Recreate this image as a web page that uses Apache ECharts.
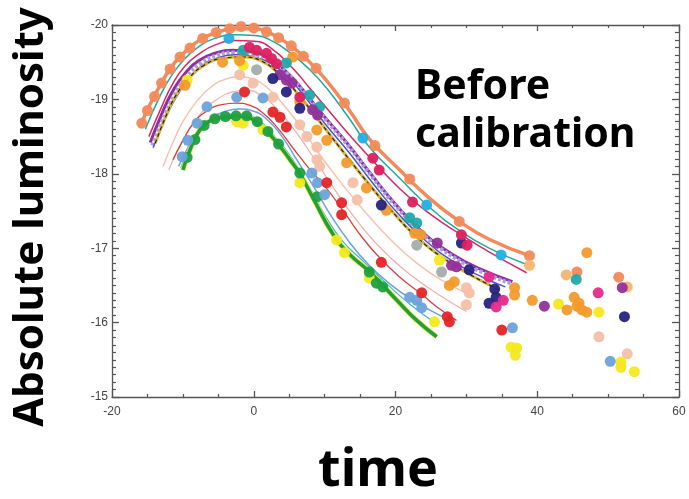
<!DOCTYPE html>
<html>
<head>
<meta charset="utf-8">
<script src="https://cdn.jsdelivr.net/npm/echarts@6/dist/echarts.min.js"></script>
<style>
html,body{margin:0;padding:0;background:#fff;}
#chart{width:689px;height:499px;}
</style>
</head>
<body>
<div id="chart"></div>
<script>
// ---- axis ticks ----
const xTicks = [-20, 0, 20, 40, 60];
const yTicks = [-20, -19, -18, -17, -16, -15];

// ---- fitted light curves [time, absolute magnitude] ----
const curveSalmon = [[-16.1,-18.62],[-14.7,-18.92],[-13.2,-19.19],[-11.6,-19.44],[-9.7,-19.64],[-7.6,-19.80],[-5.5,-19.89],[-2.7,-19.95],[0.1,-19.95],[2.3,-19.89],[5.1,-19.73],[7.9,-19.50],[10.3,-19.25],[13.5,-18.85],[16.3,-18.47],[20.6,-18.05],[24.8,-17.67],[29.0,-17.36],[33.2,-17.12],[38.9,-16.90]];
const curveTeal = [[-15.3,-18.6],[-13.2,-19.05],[-11.6,-19.32],[-9.7,-19.55],[-7.6,-19.72],[-5.5,-19.82],[-2.7,-19.87],[0.1,-19.86],[2.3,-19.8],[5.1,-19.63],[7.9,-19.4],[10.3,-19.15],[13.5,-18.74],[16.3,-18.36],[20.6,-17.94],[24.8,-17.55],[29,-17.24],[33.2,-17.0],[38.5,-16.78]];
const curveCrimson = [[-14.8,-18.5],[-13,-18.9],[-11.5,-19.2],[-9.7,-19.45],[-7.6,-19.62],[-5.5,-19.73],[-2.7,-19.79],[0.1,-19.78],[2.3,-19.7],[5.5,-19.42],[7.9,-19.15],[10.3,-18.88],[13.5,-18.52],[15.4,-18.32],[20.6,-17.8],[25,-17.45],[29.3,-17.18],[33.2,-16.95],[38.5,-16.67]];
const curvePurple = [[-14.6,-18.42],[-13,-18.8],[-11.5,-19.1],[-9.7,-19.35],[-7.6,-19.53],[-5.5,-19.62],[-3,-19.66],[-0.5,-19.64],[2,-19.56],[4.5,-19.38],[7,-19.12],[9.5,-18.82],[13.1,-18.42],[16.5,-18.0],[20.1,-17.58],[24,-17.2],[28,-16.92],[32,-16.72],[36.5,-16.55]];
const curveLavender = [[-14.3,-18.38],[-12.8,-18.74],[-11.3,-19.04],[-9.5,-19.3],[-7.4,-19.49],[-5.3,-19.59],[-2.8,-19.63],[-0.3,-19.61],[2.2,-19.53],[4.7,-19.35],[7.2,-19.08],[9.7,-18.78],[13.3,-18.38],[16.7,-17.96],[20.3,-17.54],[24.2,-17.16],[28.2,-16.88],[32.2,-16.68],[36.5,-16.52]];
const curveIndigo = [[-14.2,-18.35],[-12.6,-18.72],[-11,-19.02],[-9.2,-19.27],[-7.2,-19.46],[-5,-19.56],[-2.5,-19.6],[0,-19.57],[2.5,-19.48],[5,-19.28],[7.5,-19.0],[10,-18.68],[13.5,-18.28],[17,-17.85],[20.5,-17.45],[24.5,-17.08],[28.5,-16.8],[32.5,-16.6],[35.5,-16.48]];
const curveGold = [[-13.9,-18.41],[-12.5,-18.75],[-11,-19.05],[-9,-19.3],[-7,-19.46],[-4.5,-19.55],[-1.5,-19.57],[1,-19.52],[3.5,-19.35],[6,-19.1],[8.5,-18.8],[12.1,-18.36],[15.5,-17.95],[19.2,-17.53],[23,-17.15],[27,-16.85],[31,-16.62],[34.6,-16.44]];
const curvePeach = [[-12.8,-18.1],[-11.5,-18.4],[-10,-18.7],[-8,-18.98],[-6,-19.17],[-4,-19.27],[-2,-19.3],[0,-19.27],[2,-19.15],[4,-18.95],[6.5,-18.65],[9,-18.3],[11.5,-17.98],[14,-17.68],[17,-17.35],[20,-17.05],[23,-16.8],[26.5,-16.57],[31,-16.35]];
const curvePink = [[-12,-18.05],[-10.8,-18.3],[-9.2,-18.58],[-7.3,-18.83],[-5.2,-19.0],[-3,-19.1],[-1,-19.12],[1,-19.06],[3,-18.9],[5.5,-18.62],[8,-18.28],[10.5,-17.92],[13,-17.57],[16,-17.2],[19,-16.9],[22,-16.65],[26,-16.38],[30,-16.15]];
const curveRed = [[-11.4,-18.19],[-10,-18.45],[-8.5,-18.68],[-6.5,-18.85],[-4.5,-18.93],[-2.5,-18.95],[-0.5,-18.92],[1.5,-18.8],[3.5,-18.6],[5.5,-18.35],[8,-18.05],[10.3,-17.8],[13,-17.45],[15.5,-17.12],[17.7,-16.88],[20.5,-16.62],[23.7,-16.38],[26,-16.2],[28.6,-16.03]];
const curveBlue = [[-10.6,-18.1],[-9.3,-18.35],[-7.8,-18.58],[-6,-18.75],[-4,-18.84],[-2,-18.87],[0,-18.84],[2,-18.72],[4,-18.5],[6,-18.2],[8.5,-17.82],[11,-17.42],[13.5,-17.08],[16,-16.8],[19.2,-16.52],[22.5,-16.3],[26.6,-16.08]];
const curveCyan = [[-10.3,-18.08],[-9.2,-18.33],[-7.7,-18.58],[-6,-18.73],[-3.6,-18.8],[-1.4,-18.8],[0.7,-18.72],[2.8,-18.52],[5,-18.26],[7.5,-17.88],[10,-17.45],[12.5,-17.1],[15.5,-16.82],[19,-16.5],[22,-16.25],[25.5,-16.0]];
const curveGreen = [[-10,-18.05],[-9,-18.32],[-7.6,-18.59],[-5.9,-18.72],[-3.4,-18.76],[-1.3,-18.76],[0.8,-18.66],[3,-18.45],[5.1,-18.19],[6.5,-18.0],[8.5,-17.65],[11.1,-17.2],[13.5,-16.92],[16.5,-16.67],[20.6,-16.26],[23,-16.03],[25.8,-15.81]];

// ---- observations [time, absolute magnitude] ----
const dotsSalmon = [[-15.8,-18.68],[-15,-18.85],[-14,-19.04],[-13,-19.22],[-11.8,-19.41],[-10.4,-19.57],[-9,-19.69],[-7.2,-19.82],[-5.3,-19.9],[-3.4,-19.95],[-1.8,-19.98],[0,-19.96],[1.8,-19.91],[3.5,-19.83],[5.3,-19.72],[7,-19.58],[8.8,-19.42],[12.8,-18.95],[17.1,-18.38],[22,-17.93],[29,-17.36],[38.9,-16.9],[45.6,-16.68],[51.5,-16.61]];
const dotsOrange = [[-9.7,-19.19],[-4.4,-19.5],[-2.0,-19.52],[5.5,-19.57],[6.5,-18.97],[8.9,-18.59],[10.3,-18.45],[13.1,-18.15],[15.9,-17.81],[18.7,-17.51],[22.7,-17.2],[23.6,-17.18],[27.6,-16.5],[28.3,-16.55],[36.8,-16.37],[36.8,-16.47],[39.3,-16.3],[47,-16.94],[45.2,-16.34],[45.9,-16.26],[46.3,-16.17],[44.2,-16.17],[47,-16.14],[45.6,-16.22]];
const dotsApricot = [[44.1,-16.64],[52.7,-16.48],[38.9,-16.77]];
const dotsCrimson = [[-0.6,-19.7],[0.4,-19.66],[1.8,-19.62],[2.5,-19.55],[3.2,-19.48],[6.5,-19.03],[16.8,-18.21],[17.7,-18.05],[22.4,-17.62],[29.3,-17.18],[30.1,-17.04]];
const dotsHotPink = [[33.2,-16.61],[34.2,-16.21],[35.2,-16.3],[48.6,-16.4]];
const dotsPurple = [[3.7,-19.33],[4.6,-19.26],[5.4,-19.22],[8.3,-18.86],[9,-18.79],[25.9,-17.07],[27.9,-16.77],[28.6,-16.75],[41,-16.22],[52,-16.47]];
const dotsNavy = [[2.7,-19.28],[4.6,-19.1],[6.5,-18.88],[18,-17.58],[29.3,-17.07],[30.4,-16.71],[34.2,-16.34],[33.2,-16.26],[34,-16.45],[52.3,-16.08]];
const dotsTeal = [[-1.5,-19.66],[4.6,-19.49],[7.9,-19.06],[9.3,-18.9],[22,-17.41],[23,-17.34],[45.5,-16.58]];
const dotsSky = [[-3.5,-19.82],[15.4,-18.48],[24.4,-17.58],[34.9,-16.91]];
const dotsBlue = [[-10.1,-18.23],[-9.3,-18.45],[-8,-18.68],[-6.6,-18.9],[-2.4,-19.03],[1.3,-19.02],[8.2,-18.01],[9,-17.88],[10,-17.72],[22,-16.34],[23,-16.3],[23.7,-16.2],[36.5,-15.93],[50.3,-15.48]];
const dotsRed = [[-1.3,-19.1],[2.7,-18.83],[3.7,-18.76],[4.6,-18.63],[10.3,-17.88],[12.4,-17.61],[12.4,-17.45],[18,-16.81],[23.7,-16.4],[27.3,-16.08],[27.6,-16.01],[35,-15.9]];
const dotsGreen = [[-9.4,-18.22],[-8.3,-18.46],[-7,-18.65],[-5.5,-18.74],[-4,-18.77],[-2.5,-18.78],[-1,-18.78],[0.5,-18.7],[2,-18.57],[3.5,-18.4],[6.5,-18.01],[8.9,-17.69],[16.3,-16.68],[17.3,-16.53],[18.2,-16.48]];
const dotsYellow = [[-9.4,-19.26],[-1.5,-19.46],[-2.4,-18.7],[-1.5,-18.68],[1.3,-18.59],[6.5,-17.88],[11.7,-17.11],[12.8,-16.94],[16.3,-16.6],[26.2,-16.84],[25.5,-16.01],[36.3,-15.67],[37.1,-15.66],[36.9,-15.56],[43,-16.25],[48.7,-16.14],[51.8,-15.47],[51.8,-15.4],[53.7,-15.34]];
const dotsPeach = [[-2,-19.33],[-0.1,-19.22],[2.7,-19.03],[6.5,-18.66],[7.5,-18.5],[8.9,-18.36],[8.9,-18.19],[9.3,-18.1],[14,-17.88],[14.6,-17.65],[30,-16.47],[30.4,-16.4],[30,-16.24],[48.7,-15.81],[52.7,-15.58]];
const dotsGray = [[0.4,-19.4],[23,-17.04],[26.5,-16.68]];

const chart = echarts.init(document.getElementById('chart'), null, {renderer: 'canvas'});

function line(data, color, width, extra) {
  return Object.assign({
    type: 'line', data: data, smooth: 0.5, symbol: 'none', silent: true,
    lineStyle: {color: color, width: width}, z: 2
  }, extra || {});
}
function dots(data, color) {
  return {type: 'scatter', data: data, symbol: 'circle', symbolSize: 11, silent: true,
    itemStyle: {color: color, opacity: 0.95}, z: 3};
}

const labelFont = "'Liberation Sans Narrow','Liberation Sans',Arial,sans-serif";
function xAx(pos, showLabel) {
  return {
    type: 'value', position: pos, min: xTicks[0], max: xTicks[xTicks.length-1], interval: 20,
    axisLine: {show: true, onZero: false, lineStyle: {color: '#555', width: 1.3}},
    axisTick: {show: true, inside: true, length: 6, lineStyle: {color: '#555', width: 1.3}},
    minorTick: {show: true, splitNumber: 4, length: 3, lineStyle: {color: '#555', width: 1.2}},
    splitLine: {show: false},
    axisLabel: {show: showLabel, color: '#444', fontSize: 12, fontFamily: labelFont, margin: 9,
      formatter: v => String(v)}
  };
}
function yAx(pos, showLabel) {
  return {
    type: 'value', position: pos, inverse: true, min: yTicks[0], max: yTicks[yTicks.length-1], interval: 1,
    axisLine: {show: true, onZero: false, lineStyle: {color: '#555', width: 1.3}},
    axisTick: {show: true, inside: true, length: 7, lineStyle: {color: '#555', width: 1.3}},
    minorTick: {show: true, splitNumber: 10, length: 4, lineStyle: {color: '#555', width: 1.2}},
    splitLine: {show: false},
    axisLabel: {show: showLabel, color: '#444', fontSize: 12, fontFamily: labelFont, margin: 4,
      formatter: v => String(v)}
  };
}

const series = [
  line(curvePink, '#F2AEA6', 1.2),
  line(curvePeach, '#F6C4AE', 1.5),
  line(curveSalmon, '#F28A5B', 3.5),
  line(curveTeal, '#22A99B', 1.5),
  line(curveCrimson, '#D62866', 1.5),
  line(curvePurple, '#8F2E9E', 3),
  line(curveLavender, '#A99CE4', 3, {lineStyle: {color: '#A99CE4', width: 4, type: [3, 2]}}),
  line(curveIndigo, '#4B55C8', 1.5),
  line(curveGold, '#D8B53A', 3),
  line(curveGold, '#222', 1.2, {lineStyle: {color: '#222', width: 1.2, type: [4, 3]}}),
  line(curveRed, '#D84040', 1.3),
  line(curveBlue, '#6BA3DA', 1.5),
  line(curveCyan, '#3CB8C4', 1.2),
  line(curveGreen, '#F4E81C', 5),
  line(curveGreen, '#1EA040', 3.5),
  dots(dotsPeach, '#F6BFA6'),
  dots(dotsGray, '#A3ADA8'),
  dots(dotsYellow, '#F4E81C'),
  dots(dotsSalmon, '#F28A5B'),
  dots(dotsOrange, '#F39A2C'),
  dots(dotsApricot, '#F6B56B'),
  dots(dotsGreen, '#1EA040'),
  dots(dotsBlue, '#6BA3DA'),
  dots(dotsRed, '#E42528'),
  dots(dotsTeal, '#20A9A9'),
  dots(dotsSky, '#25AEE0'),
  dots(dotsPurple, '#93309A'),
  dots(dotsNavy, '#27237E'),
  dots(dotsCrimson, '#DC2060'),
  dots(dotsHotPink, '#E8288C')
];

chart.setOption({
  animation: false,
  backgroundColor: '#fff',
  grid: {left: 112, right: 10, top: 25, bottom: 102, containLabel: false},
  xAxis: [xAx('bottom', true), xAx('top', false)],
  yAxis: [yAx('left', true), yAx('right', false)],
  series: series,
  graphic: [
    {type: 'text', left: 415, top: 67, style: {text: 'Before', font: "bold 41px 'Noto Sans'", fill: '#000'}},
    {type: 'text', left: 415, top: 115, style: {text: 'calibration', font: "bold 41px 'Noto Sans'", fill: '#000'}},
    {type: 'text', x: 378, y: 471, style: {text: 'time', font: "bold 52px 'Noto Sans'", fill: '#000', align: 'center', verticalAlign: 'middle'}},
    {type: 'text', x: 31, y: 217, rotation: Math.PI / 2, style: {text: 'Absolute luminosity', font: "bold 42px 'Noto Sans'", fill: '#000', align: 'center', verticalAlign: 'middle'}}
  ]
});
</script>
</body>
</html>
